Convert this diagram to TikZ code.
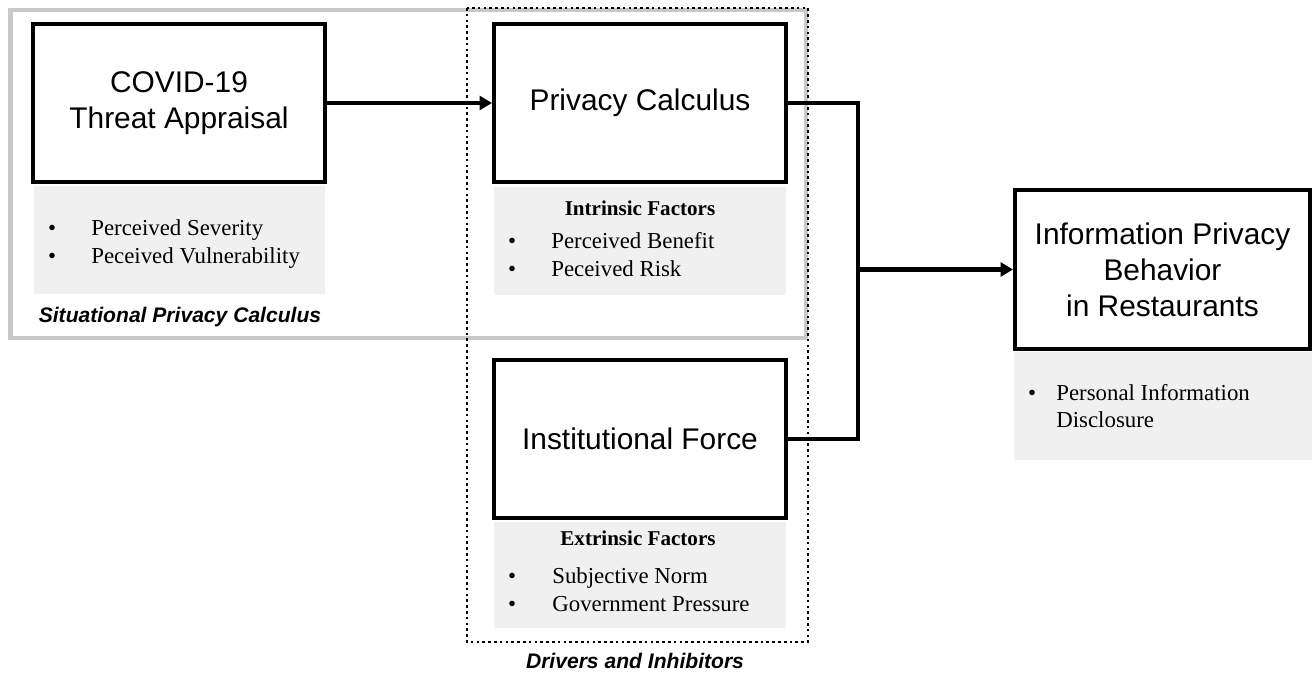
\documentclass[tikz,border=0pt]{standalone}
\usepackage{fontspec}
\setmainfont{Liberation Serif}
\setsansfont{Liberation Sans}
\usepackage{xcolor}
\usepackage{tikz}
\usetikzlibrary{arrows.meta}

\definecolor{framegray}{RGB}{200,200,200}
\definecolor{panelgray}{RGB}{240,240,240}

\tikzset{
  construct/.style={draw, line width=2.3pt, minimum width=5.84cm, minimum height=3.16cm,
    align=center, font=\sffamily\fontsize{17}{20.5}\selectfont},
  panel/.style={fill=panelgray, minimum width=5.84cm, minimum height=2.16cm, inner sep=0pt},
  item/.style={anchor=base west, inner sep=0pt, font=\fontsize{13}{15.9}\selectfont},
  bul/.style={anchor=base, inner sep=0pt, font=\fontsize{13}{15.9}\selectfont},
  head/.style={anchor=base, inner sep=0pt, font=\bfseries\fontsize{12}{14}\selectfont},
  tag/.style={anchor=base, inner sep=0pt, font=\sffamily\bfseries\itshape\fontsize{12}{14}\selectfont},
  conn/.style={line width=2.4pt},
  arr/.style={conn, -{Triangle[length=7pt, width=7.8pt]}}
}

\begin{document}
\begin{tikzpicture}[x=0.02cm, y=-0.02cm]
  \useasboundingbox (0,0) rectangle (1315,676);

  % grey panels under the constructs
  \node[panel] (covidp) at (179.5,240) {};
  \node[panel] (privp) at (640,241) {};
  \node[panel, minimum height=2.12cm] (instp) at (640,575) {};
  \node[panel, minimum width=5.96cm] (infop) at (1163,406) {};

  % situational frame
  \draw[framegray, line width=2.3pt] (10.5,10) rectangle (806,338);

  % constructs
  \node[construct] (covid) at (179,103) {COVID-19\\Threat Appraisal};
  \node[construct] (priv) at (640,103) {Privacy Calculus};
  \node[construct] (inst) at (640,439) {Institutional Force};
  \node[construct, minimum width=5.9cm, minimum height=3.18cm] (info) at (1162.5,269.5)
    {Information Privacy\\Behavior\\in Restaurants};

  % factor lists
  \foreach \y/\t in {235/Perceived Severity, 263/Peceived Vulnerability} {
    \node[bul] (cb\y) at (52,\y) {\textbullet};
    \node[item] (ct\y) at (91,\y) {\t};
  }
  \node[head] (intr) at (640,215) {Intrinsic Factors};
  \foreach \y/\t in {248/Perceived Benefit, 276/Peceived Risk} {
    \node[bul] (pb\y) at (512,\y) {\textbullet};
    \node[item] (pt\y) at (551,\y) {\t};
  }
  \node[head] (extr) at (638,545) {Extrinsic Factors};
  \foreach \y/\t in {583/Subjective Norm, 611/Government Pressure} {
    \node[bul] (ib\y) at (512,\y) {\textbullet};
    \node[item] (it\y) at (552,\y) {\t};
  }
  \node[bul] (fb400) at (1032,400) {\textbullet};
  \node[item] (ft400) at (1056,400) {Personal Information};
  \node[item] (ft427) at (1056,427) {Disclosure};

  % frame labels
  \node[tag] (sitlab) at (180,322) {Situational Privacy Calculus};
  \node[tag] (drvlab) at (635,668) {Drivers and Inhibitors};

  % connectors
  \coordinate (junc) at (858,269.5);
  \draw[arr] (covid.east) -- (priv.west);
  \draw[conn] (priv.east) -| (junc) |- (inst.east);
  \draw[arr] (junc) -- (info.west);

  % dotted frame
  \draw[line width=1.5pt, dash pattern=on 1.5pt off 1.8pt] (467,8) rectangle (808,642);
\end{tikzpicture}
\end{document}
